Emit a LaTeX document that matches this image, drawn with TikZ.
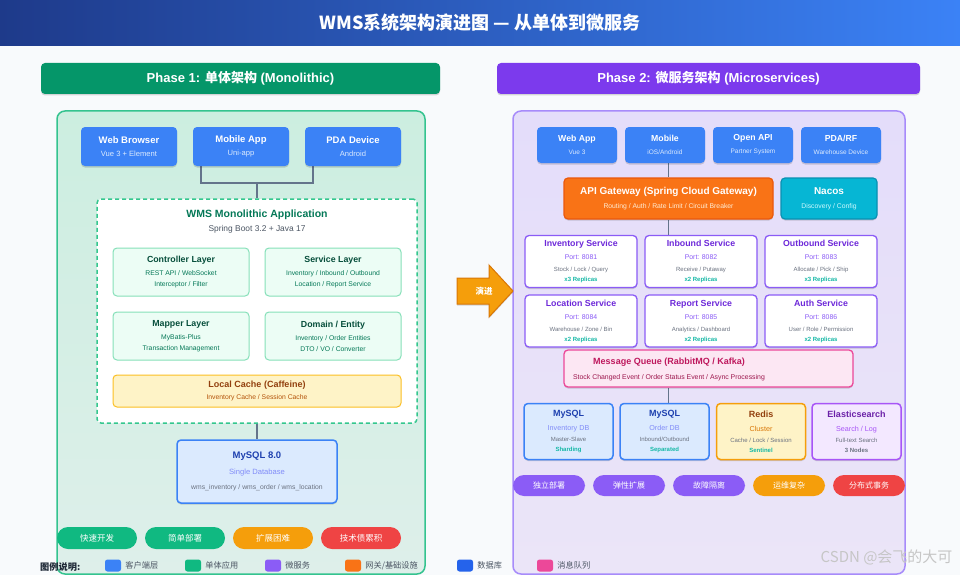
\documentclass[tikz,border=0pt]{standalone}
\usepackage{fontspec}
\setmainfont{Liberation Sans}
\newfontfamily\cjk{Noto Sans CJK SC}
\usepackage{tikz}
\usetikzlibrary{calc}
\pgfdeclarelayer{bg}
\pgfsetlayers{bg,main}
\usetikzlibrary{positioning,shadows}
\usepackage{color}

\definecolor{pagebg}{HTML}{F8FAFC}
\definecolor{titledark}{HTML}{1E3A8A}
\definecolor{titlelight}{HTML}{3B82F6}
\definecolor{monogreen}{HTML}{059669}
\definecolor{microviolet}{HTML}{7C3AED}
\definecolor{clientblue}{HTML}{3B82F6}
\definecolor{clientsub}{HTML}{DBEAFE}
\definecolor{monoedge}{HTML}{34C38F}
\definecolor{monotop}{HTML}{CCEEE0}
\definecolor{monobot}{HTML}{DEEFEA}
\definecolor{microedge}{HTML}{A78BFA}
\definecolor{microtop}{HTML}{E4DDFA}
\definecolor{microbot}{HTML}{EBE5F8}
\definecolor{dashgreen}{HTML}{34C78E}
\definecolor{appgreen}{HTML}{047857}
\definecolor{layerfill}{HTML}{ECFDF5}
\definecolor{layeredge}{HTML}{86E0B9}
\definecolor{layertitle}{HTML}{064E3B}
\definecolor{cachefill}{HTML}{FEF3C7}
\definecolor{cacheedge}{HTML}{FBBF24}
\definecolor{cachetitle}{HTML}{92400E}
\definecolor{cachesub}{HTML}{B45309}
\definecolor{dbfill}{HTML}{DBEAFE}
\definecolor{dbtitle}{HTML}{1E40AF}
\definecolor{dbsub}{HTML}{818CF8}
\definecolor{textgray}{HTML}{6B7280}
\definecolor{linegray}{HTML}{64748B}
\definecolor{pillgreen}{HTML}{10B981}
\definecolor{pillorange}{HTML}{F59E0B}
\definecolor{pillred}{HTML}{EF4444}
\definecolor{pillviolet}{HTML}{8B5CF6}
\definecolor{gwfill}{HTML}{F97316}
\definecolor{gwedge}{HTML}{EA580C}
\definecolor{gwsub}{HTML}{FFEDD5}
\definecolor{nacosfill}{HTML}{06B6D4}
\definecolor{nacosedge}{HTML}{0891B2}
\definecolor{nacossub}{HTML}{CFFAFE}
\definecolor{svcedge}{HTML}{8B5CF6}
\definecolor{svctitle}{HTML}{6D28D9}
\definecolor{replica}{HTML}{14B8A6}
\definecolor{mqfill}{HTML}{FCE7F3}
\definecolor{mqedge}{HTML}{EC4899}
\definecolor{mqtitle}{HTML}{BE185D}
\definecolor{mqsub}{HTML}{9D174D}
\definecolor{redissub}{HTML}{D97706}
\definecolor{esfill}{HTML}{F3E8FF}
\definecolor{esedge}{HTML}{A855F7}
\definecolor{estitle}{HTML}{6B21A8}
\definecolor{arrowedge}{HTML}{D97706}
\definecolor{dbblue}{HTML}{2563EB}
\definecolor{legendtext}{HTML}{4B5563}
\definecolor{legendhead}{HTML}{1F2937}

\newcommand{\boxtitle}[2]{{\bfseries\fontsize{#1}{#1}\selectfont #2}}

\tikzset{
  shadowed/.style={drop shadow={shadow xshift=0pt, shadow yshift=-1.5pt, opacity=.15, fill=black}},
  card/.style={rounded corners=4pt, align=center, inner sep=0pt},
  panel/.style={rounded corners=8pt, line width=1.5pt, inner sep=0pt, minimum height=463pt},
  phase/.style={card, shadowed, minimum height=31pt, text=white, font=\bfseries\fontsize{13}{15}\selectfont},
  client/.style={card, shadowed, fill=clientblue, text=clientsub, minimum width=96pt, minimum height=39pt, font=\fontsize{7.6}{13}\selectfont},
  rclient/.style={card, shadowed, fill=clientblue, text=clientsub, minimum width=80pt, minimum height=36pt, font=\fontsize{6.5}{13}\selectfont},
  layer/.style={card, fill=layerfill, draw=layeredge, line width=1pt, minimum width=136pt, minimum height=48pt, text=appgreen, font=\fontsize{6.8}{11}\selectfont},
  db/.style={card, shadowed, line width=1.5pt, fill=dbfill, draw=clientblue, text=textgray},
  rdb/.style={db, minimum width=89pt, minimum height=56pt, font=\fontsize{6}{10}\selectfont},
  svc/.style={card, shadowed, fill=white, draw=svcedge, line width=1.3pt, minimum width=112pt, minimum height=52pt, text=textgray, font=\fontsize{6}{10}\selectfont},
  pill/.style={rounded corners=11pt, inner sep=0pt, text=white, font=\cjk\fontsize{8.5}{10}\selectfont},
  legendbox/.style={rounded corners=2.5pt, minimum width=16pt, minimum height=12pt, inner sep=0pt},
  legendtxt/.style={inner sep=0pt, text=legendtext, font=\cjk\fontsize{8.2}{9}\selectfont},
  conn/.style={draw=linegray, line width=1.5pt}
}

\begin{document}
\begin{tikzpicture}[x=1pt, y=-1pt]
    \useasboundingbox (0,0) rectangle (960,575);

    \node [text=white, font=\cjk\bfseries\fontsize{18}{20}\selectfont] (maintitle) at (480,23) {WMS系统架构演进图 — 从单体到微服务};
    \node [phase, fill=monogreen, minimum width=399pt] (phaseone) at (240.5,78.5) {Phase 1: {\cjk 单体架构} (Monolithic)};
    \node [phase, fill=microviolet, minimum width=423pt] (phasetwo) at (708.5,78.5) {Phase 2: {\cjk 微服务架构} (Microservices)};

    % phase 1
    \node [client] (webbrowser) at (129,146.5) {\boxtitle{9.5}{\color{white}Web Browser}\\ Vue 3 + Element};
    \node [client] (mobileapp) at (241,146.5) {\boxtitle{9.5}{\color{white}Mobile App}\\ Uni-app};
    \node [client] (pdadevice) at (353,146.5) {\boxtitle{9.5}{\color{white}PDA Device}\\ Android};

    \node [card, fill=white, draw=dashgreen, line width=1.5pt, dash pattern=on 4pt off 3pt, minimum width=320pt, minimum height=224pt] (monoapp) at (257,311) {};
    \node [text=appgreen, font=\bfseries\fontsize{10.5}{12}\selectfont] (monotitle) at (257,215) {WMS Monolithic Application};
    \node [text=legendtext, font=\fontsize{8.4}{10}\selectfont] (monosub) at (257,229) {Spring Boot 3.2 + Java 17};

    \node [layer] (controller) at (181,272) {\boxtitle{8.8}{\color{layertitle}Controller Layer}\\[2pt] REST API / WebSocket\\ Interceptor / Filter};
    \node [layer] (servicelayer) at (333,272) {\boxtitle{8.8}{\color{layertitle}Service Layer}\\[2pt] Inventory / Inbound / Outbound\\ Location / Report Service};
    \node [layer] (mapper) at (181,336) {\boxtitle{8.8}{\color{layertitle}Mapper Layer}\\[2pt] MyBatis-Plus\\ Transaction Management};
    \node [layer] (domain) at (333,336) {\boxtitle{8.8}{\color{layertitle}Domain / Entity}\\[2pt] Inventory / Order Entities\\ DTO / VO / Converter};
    \node [card, fill=cachefill, draw=cacheedge, line width=1pt, minimum width=288pt, minimum height=32pt, text=cachesub, font=\fontsize{6.8}{12}\selectfont] (localcache) at (257,391) {\boxtitle{9}{\color{cachetitle}Local Cache (Caffeine)}\\ Inventory Cache / Session Cache};

    \node [db, minimum width=160pt, minimum height=63pt, font=\fontsize{6.8}{15}\selectfont] (mysqlsingle) at (257,471.5) {\boxtitle{9.5}{\color{dbtitle}MySQL 8.0}\\[1pt] {\fontsize{7.6}{8}\selectfont\color{dbsub}Single Database}\\ wms\_inventory / wms\_order / wms\_location};

    \node [pill, fill=pillgreen, minimum width=80pt, minimum height=22pt] (fastdev) at (97,538) {快速开发};
    \node [pill, fill=pillgreen, minimum width=80pt, minimum height=22pt] (easydeploy) at (185,538) {简单部署};
    \node [pill, fill=pillorange, minimum width=80pt, minimum height=22pt] (hardscale) at (273,538) {扩展困难};
    \node [pill, fill=pillred, minimum width=80pt, minimum height=22pt] (techdebt) at (361,538) {技术债累积};

    % evolution arrow
    \filldraw [shadowed, fill=pillorange, draw=arrowedge, line width=1pt] (457,278) -- (489,278) -- (489,265) -- (513,291) -- (489,317) -- (489,304) -- (457,304) -- cycle;
    \node [text=white, font=\cjk\bfseries\fontsize{8.5}{10}\selectfont] (evolve) at (484,291) {演进};

    % phase 2
    \node [rclient] (webapp) at (577,145) {\boxtitle{8.7}{\color{white}Web App}\\ Vue 3};
    \node [rclient] (mobile) at (665,145) {\boxtitle{8.7}{\color{white}Mobile}\\ iOS/Android};
    \node [rclient] (openapi) at (753,145) {\boxtitle{8.7}{\color{white}Open API}\\ Partner System};
    \node [rclient] (pdarf) at (841,145) {\boxtitle{8.7}{\color{white}PDA/RF}\\ Warehouse Device};

    \node [card, shadowed, fill=gwfill, draw=gwedge, line width=1.2pt, minimum width=209pt, minimum height=41pt, text=gwsub, font=\fontsize{6.8}{14}\selectfont] (gateway) at (668.5,198.5) {\boxtitle{10}{\color{white}API Gateway (Spring Cloud Gateway)}\\ Routing / Auth / Rate Limit / Circuit Breaker};
    \node [card, shadowed, fill=nacosfill, draw=nacosedge, line width=1.2pt, minimum width=96pt, minimum height=41pt, text=nacossub, font=\fontsize{6.8}{14}\selectfont] (nacos) at (829,198.5) {\boxtitle{10}{\color{white}Nacos}\\ Discovery / Config};

    \node [svc] (inventory) at (581,261.5) {\boxtitle{8.8}{\color{svctitle}Inventory Service}\\[3pt] {\fontsize{6.9}{7}\selectfont\color{svcedge}Port: 8081}\\[2pt] Stock / Lock / Query\\ {\bfseries\color{replica}x3 Replicas}};
    \node [svc] (inbound) at (701,261.5) {\boxtitle{8.8}{\color{svctitle}Inbound Service}\\[3pt] {\fontsize{6.9}{7}\selectfont\color{svcedge}Port: 8082}\\[2pt] Receive / Putaway\\ {\bfseries\color{replica}x2 Replicas}};
    \node [svc] (outbound) at (821,261.5) {\boxtitle{8.8}{\color{svctitle}Outbound Service}\\[3pt] {\fontsize{6.9}{7}\selectfont\color{svcedge}Port: 8083}\\[2pt] Allocate / Pick / Ship\\ {\bfseries\color{replica}x3 Replicas}};
    \node [svc] (location) at (581,321) {\boxtitle{8.8}{\color{svctitle}Location Service}\\[3pt] {\fontsize{6.9}{7}\selectfont\color{svcedge}Port: 8084}\\[2pt] Warehouse / Zone / Bin\\ {\bfseries\color{replica}x2 Replicas}};
    \node [svc] (report) at (701,321) {\boxtitle{8.8}{\color{svctitle}Report Service}\\[3pt] {\fontsize{6.9}{7}\selectfont\color{svcedge}Port: 8085}\\[2pt] Analytics / Dashboard\\ {\bfseries\color{replica}x2 Replicas}};
    \node [svc] (auth) at (821,321) {\boxtitle{8.8}{\color{svctitle}Auth Service}\\[3pt] {\fontsize{6.9}{7}\selectfont\color{svcedge}Port: 8086}\\[2pt] User / Role / Permission\\ {\bfseries\color{replica}x2 Replicas}};

    \node [card, shadowed, fill=mqfill, draw=mqedge, line width=1.3pt, minimum width=289pt, minimum height=37pt] (mq) at (708.5,368.5) {};
    \node [align=center, text=mqsub, font=\fontsize{6.9}{15}\selectfont] (mqlabel) at (669,369.5) {\boxtitle{9}{\color{mqtitle}Message Queue (RabbitMQ / Kafka)}\\ Stock Changed Event / Order Status Event / Async Processing};

    \node [rdb] (inventorydb) at (568.5,431.5) {\boxtitle{9}{\color{dbtitle}MySQL}\\[4pt] {\fontsize{7.2}{8}\selectfont\color{dbsub}Inventory DB}\\[1pt] Master-Slave\\ {\bfseries\color{replica}Sharding}};
    \node [rdb] (orderdb) at (664.5,431.5) {\boxtitle{9}{\color{dbtitle}MySQL}\\[4pt] {\fontsize{7.2}{8}\selectfont\color{dbsub}Order DB}\\[1pt] Inbound/Outbound\\ {\bfseries\color{replica}Separated}};
    \node [rdb, fill=cachefill, draw=pillorange] (redis) at (761,431.5) {\boxtitle{9}{\color{cachetitle}Redis}\\[4pt] {\fontsize{7.2}{8}\selectfont\color{redissub}Cluster}\\[1pt] Cache / Lock / Session\\ {\bfseries\color{replica}Sentinel}};
    \node [rdb, fill=esfill, draw=esedge] (elastic) at (856.5,431.5) {\boxtitle{9}{\color{estitle}Elasticsearch}\\[4pt] {\fontsize{7.2}{8}\selectfont\color{esedge}Search / Log}\\[1pt] Full-text Search\\ {\bfseries 3 Nodes}};

    \node [pill, fill=pillviolet, minimum width=72pt, minimum height=21pt, font=\cjk\fontsize{8}{10}\selectfont] (standalone) at (549,485.5) {独立部署};
    \node [pill, fill=pillviolet, minimum width=72pt, minimum height=21pt, font=\cjk\fontsize{8}{10}\selectfont] (elastic scale) at (629,485.5) {弹性扩展};
    \node [pill, fill=pillviolet, minimum width=72pt, minimum height=21pt, font=\cjk\fontsize{8}{10}\selectfont] (isolation) at (709,485.5) {故障隔离};
    \node [pill, fill=pillorange, minimum width=72pt, minimum height=21pt, font=\cjk\fontsize{8}{10}\selectfont] (complexops) at (789,485.5) {运维复杂};
    \node [pill, fill=pillred, minimum width=72pt, minimum height=21pt, font=\cjk\fontsize{8}{10}\selectfont] (disttx) at (869,485.5) {分布式事务};

    % legend
    \node [anchor=west, inner sep=0pt, text=legendhead, font=\cjk\bfseries\fontsize{9.2}{10}\selectfont] (legendtitle) at (40,567) {图例说明:};
    \node [legendbox, fill=clientblue] (lgclient) at (113,565.5) {};
    \node [legendtxt, right=4pt of lgclient] {客户端层};
    \node [legendbox, fill=pillgreen] (lgmono) at (193,565.5) {};
    \node [legendtxt, right=4pt of lgmono] {单体应用};
    \node [legendbox, fill=pillviolet] (lgmicro) at (273,565.5) {};
    \node [legendtxt, right=4pt of lgmicro] {微服务};
    \node [legendbox, fill=gwfill] (lggateway) at (353,565.5) {};
    \node [legendtxt, right=4pt of lggateway] {网关/基础设施};
    \node [legendbox, fill=dbblue] (lgdb) at (465,565.5) {};
    \node [legendtxt, right=4pt of lgdb] {数据库};
    \node [legendbox, fill=mqedge] (lgmq) at (545,565.5) {};
    \node [legendtxt, right=4pt of lgmq] {消息队列};

    \node [anchor=east, text=gray!45, font=\cjk\fontsize{15}{16}\selectfont] (watermark) at (956,557) {CSDN @会飞的大可};

    \begin{pgfonlayer}{bg}    % select the background layer
        \fill [pagebg] (0,0) rectangle (960,575);
        \shade [left color=titledark, right color=titlelight] (0,0) rectangle (960,46);
        \node [panel, draw=monoedge, top color=monotop, bottom color=monobot, minimum width=368pt] (monopanel) at (241,342.5) {};
        \node [panel, draw=microedge, top color=microtop, bottom color=microbot, minimum width=392pt] (micropanel) at (709,342.5) {};

        \coordinate (clientjoin) at (257,183);
        \draw [conn] ($(mobileapp.south west)+(8,0)$) |- (clientjoin) -| ($(pdadevice.south west)+(8,0)$);
        \draw [conn] (clientjoin) -- (monoapp.north);
        \draw [conn] (monoapp.south) -- (mysqlsingle.north);
        \draw [conn] (gateway.north) -- (gateway.north |- mobile.south);
        \draw [conn] (gateway.south) -- (gateway.south |- inbound.north);
        \draw [conn] (gateway.south |- mq.south) -- (gateway.south |- orderdb.north);
    \end{pgfonlayer}
\end{tikzpicture}
\end{document}
